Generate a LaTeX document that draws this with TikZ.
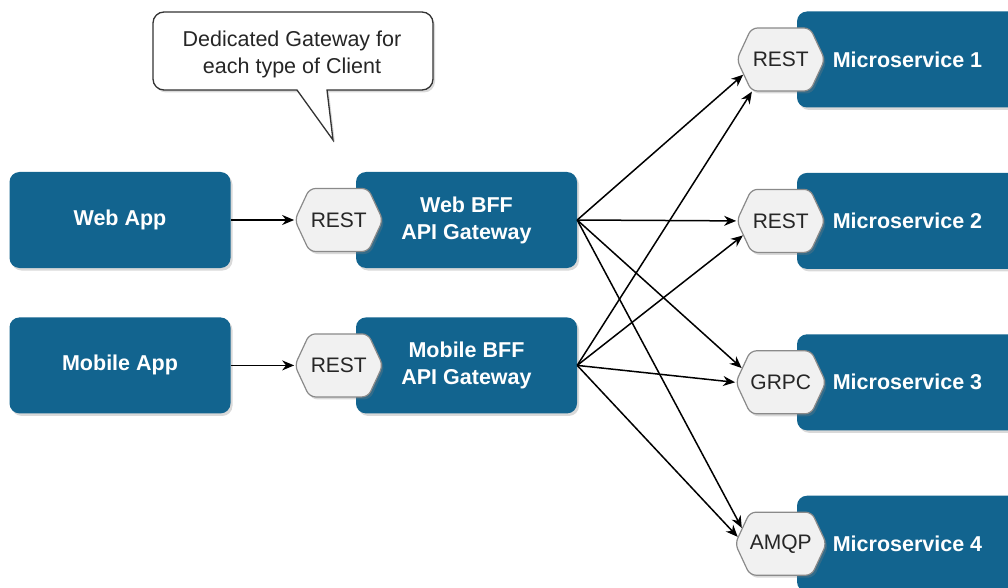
\documentclass[tikz,border=0pt]{standalone}
\usepackage{fontspec}
\setmainfont{Liberation Sans}
\usepackage{tikz}
\usetikzlibrary{arrows.meta,positioning,shapes.symbols,shadows}
\definecolor{msblue}{HTML}{12648F}
\definecolor{protofill}{HTML}{F1F1F1}
\definecolor{protoline}{HTML}{8A8A8A}

\begin{document}
\begin{tikzpicture}[x=1pt,y=-1pt,node distance=65pt,>={Stealth[length=12pt,width=10pt]}]
\tikzstyle{shade}=[drop shadow={shadow xshift=2pt,shadow yshift=-2.5pt,opacity=0.3}]
\tikzstyle{box}=[fill=msblue, rounded corners=10pt, minimum width=221pt, minimum height=96pt, align=center, text=white, font=\fontsize{21.5}{27}\selectfont\bfseries, shade]
\tikzstyle{proto}=[signal, signal to=west and east, signal from=nowhere, signal pointer angle=130, minimum width=88pt, minimum height=63pt, inner sep=0pt, rounded corners=6pt, draw=protoline, line width=1.2pt, fill=protofill, text=black!85, font=\fontsize{21}{24}\selectfont, shade]
\tikzstyle{link}=[->, line width=1.5pt]
\useasboundingbox (0,0) rectangle (1008,588);

% clients
\node[box] (webapp) at (120,220) {Web App};
\node[box, below=49pt of webapp] (mobileapp) {Mobile App};

% gateways
\node[box] (webbff) at (466.5,220) {Web BFF\\API Gateway};
\node[box, below=49pt of webbff] (mobilebff) {Mobile BFF\\API Gateway};
\node[proto] (webrest) at ([xshift=-17pt]webbff.west) {REST};
\node[proto] (mobilerest) at ([xshift=-17pt]mobilebff.west) {REST};

% services
\node[box] (ms1) at (907.5,59.5) {Microservice 1};
\node[box, below=65pt of ms1] (ms2) {Microservice 2};
\node[box, below=65pt of ms2] (ms3) {Microservice 3};
\node[box, below=65pt of ms3] (ms4) {Microservice 4};
\node[proto] (rest1) at ([xshift=-16pt]ms1.west) {REST};
\node[proto] (rest2) at ([xshift=-16pt]ms2.west) {REST};
\node[proto] (grpc3) at ([xshift=-16pt]ms3.west) {GRPC};
\node[proto] (amqp4) at ([xshift=-16pt]ms4.west) {AMQP};

% callout
\draw[fill=white, draw=black!80, line width=1.3pt, shade] (297,90) -- (333,140) -- (327,90)
  [rounded corners=11pt] -- (433,90) -- (433,12) -- (153,12) -- (153,90) [sharp corners] -- cycle;
\node[align=center, font=\fontsize{21.5}{27}\selectfont, text=black!85] (note) at (292,54) {Dedicated Gateway for\\each type of Client};

\draw[link] (webapp) -- (webrest.west);
\draw[link] (mobileapp) -- (mobilerest.west);

\draw[link] (webbff.east) -- (rest1.202);
\draw[link] (webbff.east) -- (rest2.west);
\draw[link] (webbff.east) -- (grpc3.160);
\draw[link] (webbff.east) -- (amqp4.158);
\draw[link] (mobilebff.east) -- (rest1.228);
\draw[link] (mobilebff.east) -- (rest2.201);
\draw[link] (mobilebff.east) -- (grpc3.west);
\draw[link] (mobilebff.east) -- (amqp4.171);
\end{tikzpicture}
\end{document}
